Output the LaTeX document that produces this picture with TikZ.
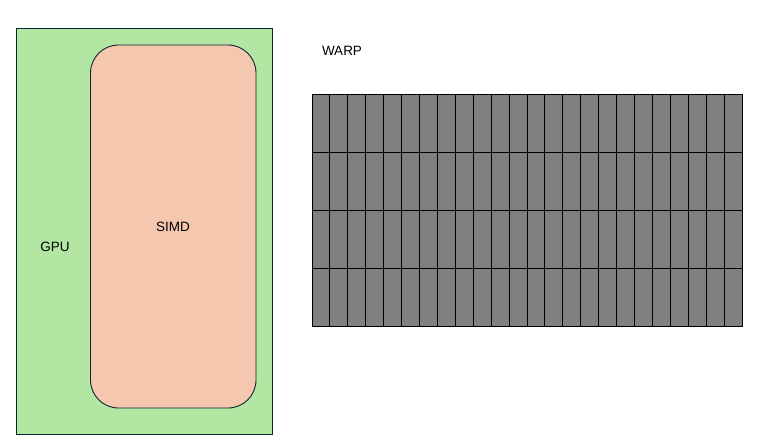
\documentclass[tikz,border=0pt]{standalone}
\usepackage{fontspec}
\setmainfont{Liberation Sans}
\definecolor{gpugreen}{HTML}{B3E5A3}
\definecolor{simdpink}{HTML}{F5C7AE}
\definecolor{edgedark}{HTML}{0A2633}
\definecolor{cellgray}{HTML}{808080}
\begin{document}
\begin{tikzpicture}[x=1pt,y=-1pt,
  lbl/.style={font=\fontsize{13.5}{16}\selectfont, inner sep=0pt, text=black},
  gpubox/.style={draw=edgedark, fill=gpugreen, line width=0.9pt},
  simdbox/.style={draw=edgedark, fill=simdpink, line width=0.9pt, rounded corners=28pt},
  cell/.style={draw=black, fill=cellgray, line width=0.9pt}]
\useasboundingbox (0,0) rectangle (772,446);
\path[gpubox] (16.5,28.5) rectangle (272,434);
\path[simdbox] (90.5,45) rectangle (256,408);
\node[lbl] (gpu) at (55,247) {GPU};
\node[lbl] (simd) at (173,227) {SIMD};
\node[lbl] (warp) at (342,51) {WARP};
\foreach \i in {0,...,23}{
  \foreach \j in {0,...,3}{
    \path[cell] ({312+\i*17.9167},{94+\j*58}) rectangle ++(17.9167,58);
  }
}
\end{tikzpicture}
\end{document}
